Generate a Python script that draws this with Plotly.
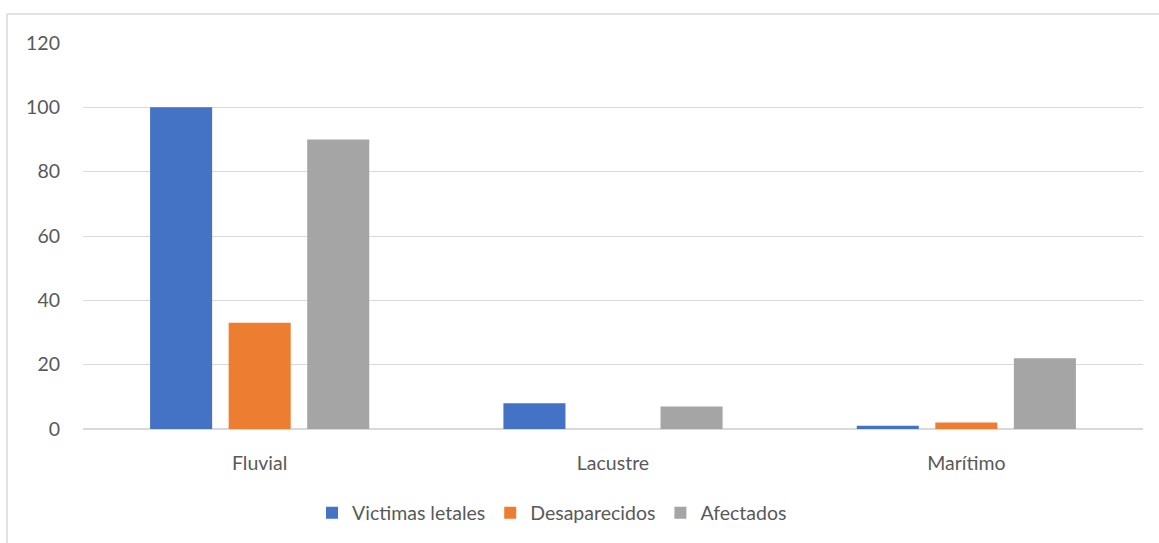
import plotly.graph_objects as go

categories = ["Fluvial", "Lacustre", "Marítimo"]
victimas_letales = [100, 8, 1]
desaparecidos = [33, 0, 2]
afectados = [90, 7, 22]
y_ticks = [0, 20, 40, 60, 80, 100, 120]

series = [
    ("Victimas letales", victimas_letales, "#4472C4"),
    ("Desaparecidos", desaparecidos, "#ED7D31"),
    ("Afectados", afectados, "#A5A5A5"),
]

font_family = "Lato, 'Open Sans', sans-serif"
text_color = "#595959"
font_size = 19.5

fig = go.Figure()
for name, values, color in series:
    fig.add_trace(go.Bar(
        x=categories, y=values, name=name,
        marker=dict(color=color, line=dict(width=0)),
    ))

W, H = 1159, 543
L, R, T, B = 83, 16, 43, 114
pw, ph = W - L - R, H - T - B


def px_x(x):
    return (x - L) / pw


def px_y(y):
    return (H - B - y) / ph


# chart frame: top and left edges
frame = dict(color="#d9d9d9", width=1.5)
fig.add_shape(type="line", xref="paper", yref="paper",
              x0=px_x(7), x1=px_x(1159), y0=px_y(14), y1=px_y(14), line=frame)
fig.add_shape(type="line", xref="paper", yref="paper",
              x0=px_x(7), x1=px_x(7), y0=px_y(14), y1=px_y(543), line=frame)

fig.update_layout(
    width=W, height=H,
    margin=dict(l=L, r=R, t=T, b=B, autoexpand=False),
    paper_bgcolor="white", plot_bgcolor="white",
    barmode="group", bargap=0.333, bargroupgap=0.21,
    font=dict(family=font_family, size=font_size, color=text_color),
    showlegend=True,
    legend=dict(orientation="h", x=px_x(552), xanchor="center",
                y=px_y(513), yanchor="middle",
                font=dict(size=font_size, color=text_color),
                itemwidth=30, tracegroupgap=0),
    xaxis=dict(showgrid=False, showline=False, ticks="",
               ticklabelstandoff=20,
               tickfont=dict(size=font_size, color=text_color)),
    yaxis=dict(range=[0, 120], tickvals=y_ticks, showgrid=True,
               gridcolor="#d9d9d9", gridwidth=1,
               zeroline=True, zerolinecolor="#d9d9d9", zerolinewidth=2,
               showline=False, ticks="", ticklabelstandoff=22,
               tickfont=dict(size=font_size, color=text_color)),
)

fig.write_html("out.html")
